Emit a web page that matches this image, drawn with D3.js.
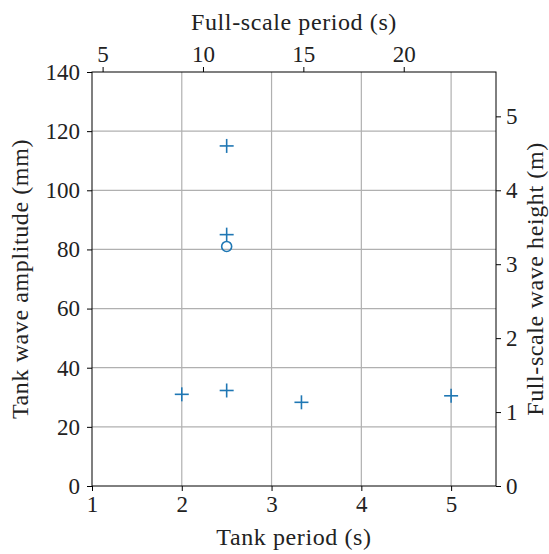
<!DOCTYPE html>
<html>
<head>
<meta charset="utf-8">
<script src="https://cdn.jsdelivr.net/npm/d3@7"></script>
<style>
  body { margin: 0; background: #fff; }
  .axis text { font-family: "Liberation Serif", serif; font-size: 23px; fill: #222; }
  .label { font-family: "Liberation Serif", serif; font-size: 24px; letter-spacing: 0.6px; fill: #222; }
</style>
</head>
<body>
<div class="container"></div>
<script>
// froude scale 1:20
const scaleRatio = 20;

// plus markers
const plusPeriod = [2, 2.5, 2.5, 2.5, 3.333, 5];
const plusAmp = [31, 115, 85, 32.3, 28.3, 30.5];
// circle marker
const circlePeriod = [2.5];
const circleAmp = [81];

const xTicks = [1, 2, 3, 4, 5];
const yTicks = [0, 20, 40, 60, 80, 100, 120, 140];
const topTicks = [5, 10, 15, 20];
const rightTicks = [0, 1, 2, 3, 4, 5];

const W = 549, H = 554;
const margin = { top: 72, right: 53, bottom: 68, left: 92 },
  width = W - margin.left - margin.right,
  height = H - margin.top - margin.bottom;

const x = d3.scaleLinear().domain([1, 5.5]).range([0, width]);
const y = d3.scaleLinear().domain([0, 140]).range([height, 0]);
const sq = Math.sqrt(scaleRatio);
const xTop = d3.scaleLinear().domain([1 * sq, 5.5 * sq]).range([0, width]);
// wave height = 2 * amplitude, scaled up (mm -> m)
const yRight = d3.scaleLinear().domain([0, 140 * 2 * scaleRatio / 1000]).range([height, 0]);

const svg = d3.select(".container").append("svg")
  .attr("width", W).attr("height", H)
  .append("g")
  .attr("transform", `translate(${margin.left},${margin.top})`);

// grid
svg.append("g").selectAll("line").data(xTicks.slice(1)).enter().append("line")
  .attr("x1", d => x(d)).attr("x2", d => x(d))
  .attr("y1", 0).attr("y2", height)
  .attr("stroke", "#b0b0b0").attr("stroke-width", 1.2);
svg.append("g").selectAll("line").data(yTicks.slice(1, -1)).enter().append("line")
  .attr("x1", 0).attr("x2", width)
  .attr("y1", d => y(d)).attr("y2", d => y(d))
  .attr("stroke", "#b0b0b0").attr("stroke-width", 1.2);

function styleAxis(g) {
  g.attr("font-family", null).attr("font-size", null);
  g.select(".domain").remove();
  g.selectAll(".tick line").attr("stroke", "#000").attr("stroke-width", 1);
}

svg.append("g").attr("class", "axis")
  .attr("transform", `translate(0,${height})`)
  .call(d3.axisBottom(x).tickValues(xTicks).tickSize(5).tickPadding(5).tickFormat(d3.format("d")))
  .call(styleAxis);
svg.append("g").attr("class", "axis")
  .call(d3.axisLeft(y).tickValues(yTicks).tickSize(5).tickPadding(7).tickFormat(d3.format("d")))
  .call(styleAxis);
svg.append("g").attr("class", "axis")
  .call(d3.axisTop(xTop).tickValues(topTicks).tickSize(5).tickPadding(5).tickFormat(d3.format("d")))
  .call(styleAxis);
svg.append("g").attr("class", "axis")
  .attr("transform", `translate(${width},0)`)
  .call(d3.axisRight(yRight).tickValues(rightTicks).tickSize(5).tickPadding(5).tickFormat(d3.format("d")))
  .call(styleAxis);

// frame
svg.append("rect")
  .attr("width", width).attr("height", height)
  .attr("fill", "none").attr("stroke", "#000").attr("stroke-width", 1);

// markers
const plus = plusPeriod.map((p, i) => ({ p, a: plusAmp[i] }));
const s = 7;
const pg = svg.append("g").attr("stroke", "#1f77b4").attr("stroke-width", 1.6);
pg.selectAll(".h").data(plus).enter().append("line")
  .attr("x1", d => x(d.p) - s).attr("x2", d => x(d.p) + s)
  .attr("y1", d => y(d.a)).attr("y2", d => y(d.a));
pg.selectAll(".v").data(plus).enter().append("line")
  .attr("x1", d => x(d.p)).attr("x2", d => x(d.p))
  .attr("y1", d => y(d.a) - s).attr("y2", d => y(d.a) + s);

svg.append("g").selectAll("circle").data(circlePeriod).enter().append("circle")
  .attr("cx", d => x(d))
  .attr("cy", (d, i) => y(circleAmp[i]))
  .attr("r", 5)
  .attr("fill", "none").attr("stroke", "#1f77b4").attr("stroke-width", 1.6);

// labels
svg.append("text").attr("class", "label")
  .attr("x", width / 2).attr("y", height + 59)
  .attr("text-anchor", "middle").text("Tank period (s)");
svg.append("text").attr("class", "label")
  .attr("x", width / 2).attr("y", -42)
  .attr("text-anchor", "middle").text("Full-scale period (s)");
svg.append("text").attr("class", "label")
  .attr("transform", `translate(-64,${height / 2}) rotate(-90)`)
  .attr("text-anchor", "middle").text("Tank wave amplitude (mm)");
svg.append("text").attr("class", "label")
  .attr("transform", `translate(${width + 47},${height / 2}) rotate(-90)`)
  .attr("text-anchor", "middle").text("Full-scale wave height (m)");
</script>
</body>
</html>
